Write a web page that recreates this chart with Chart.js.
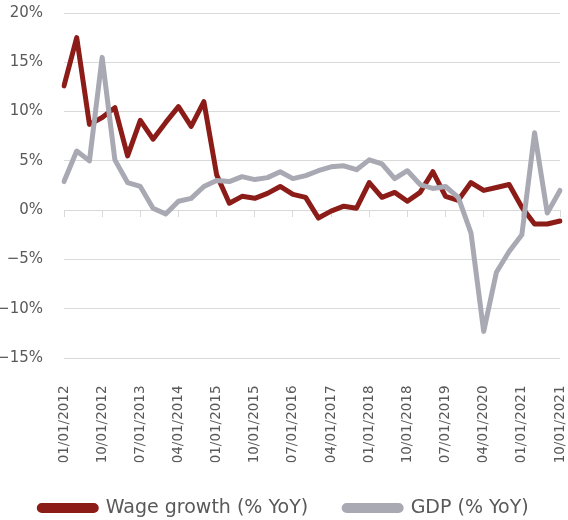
<!DOCTYPE html>
<html>
<head>
<meta charset="utf-8">
<script src="https://cdn.jsdelivr.net/npm/chart.js@4/dist/chart.umd.min.js"></script>
<style>
    body { margin: 0; background: #fff; }
    #wrap { width: 568px; height: 520px; }
</style>
</head>
<body>
<div id="wrap"><canvas id="myChart"></canvas></div>
<script>
const quarters = [];
for (let y = 2012; y <= 2021; y++) {
    ['01', '04', '07', '10'].forEach(m => quarters.push(m + '/01/' + y));
}

const wageGrowth = [12.6, 17.5, 8.7, 9.4, 10.4, 5.5, 9.1, 7.2, 8.9, 10.5,
                    8.5, 11.0, 3.6, 0.7, 1.4, 1.2, 1.7, 2.4, 1.6, 1.3,
                    -0.8, -0.1, 0.4, 0.2, 2.8, 1.3, 1.8, 0.9, 1.8, 3.9,
                    1.4, 1.0, 2.8, 2.0, 2.3, 2.6, 0.3, -1.4, -1.4, -1.1];
const gdp = [2.9, 6.0, 5.0, 15.5, 5.1, 2.8, 2.4, 0.2, -0.4, 0.9,
             1.2, 2.4, 3.0, 2.9, 3.4, 3.1, 3.3, 3.9, 3.2, 3.5,
             4.0, 4.4, 4.5, 4.1, 5.1, 4.7, 3.2, 4.0, 2.6, 2.2,
             2.4, 1.3, -2.3, -12.3, -6.3, -4.2, -2.5, 7.85, -0.3, 2.0];
const seriesNames = ['Wage growth (% YoY)', 'GDP (% YoY)'];
const seriesColors = ['#8B1C18', '#A9A9B4'];

const textColor = '#595959';
const gridColor = '#d9d9d9';
const tickEvery = 3;

const ctx = document.getElementById('myChart').getContext('2d');
const myChart = new Chart(ctx, {
    type: 'line',
    data: {
        labels: quarters,
        datasets: [{
            label: seriesNames[0],
            data: wageGrowth,
            borderColor: seriesColors[0],
            backgroundColor: seriesColors[0],
            borderWidth: 5,
            borderJoinStyle: 'round',
            borderCapStyle: 'round',
            pointRadius: 0,
            tension: 0,
            order: 1
        }, {
            label: seriesNames[1],
            data: gdp,
            borderColor: seriesColors[1],
            backgroundColor: seriesColors[1],
            borderWidth: 5,
            borderJoinStyle: 'round',
            borderCapStyle: 'round',
            pointRadius: 0,
            tension: 0,
            order: 0 // grey drawn on top, like the original
        }]
    },
    options: {
        responsive: true,
        maintainAspectRatio: false,
        animation: false,
        // negative bottom padding lets the legend keep a wide label gap
        layout: { padding: { top: 13, right: 0, bottom: -7.5, left: 0 } },
        plugins: {
            tooltip: { enabled: false },
            legend: {
                position: 'bottom',
                labels: {
                    sort: (a, b) => a.datasetIndex - b.datasetIndex,
                    boxWidth: 57,
                    boxHeight: 5,
                    useBorderRadius: true,
                    borderRadius: 2.5,
                    padding: 36,
                    color: textColor,
                    font: { family: 'DejaVu Sans', size: 19 }
                }
            }
        },
        scales: {
            x: {
                afterFit: scale => {
                    scale.height = 104.5;
                    scale.paddingLeft = 0;
                    scale.paddingRight = 8;
                },
                grid: { display: false },
                border: { display: false },
                ticks: {
                    autoSkip: false,
                    minRotation: 90,
                    maxRotation: 90,
                    padding: 19.5,
                    color: textColor,
                    font: { family: 'DejaVu Sans', size: 13.5 },
                    callback: (val, i) => i % tickEvery === 0 ? quarters[i] : ''
                }
            },
            x2: {
                type: 'category',
                labels: quarters,
                position: { y: 0 },
                grid: {
                    drawOnChartArea: false,
                    drawTicks: true,
                    tickLength: 6,
                    tickWidth: 1,
                    tickColor: c => c.index % tickEvery === 0 ? gridColor : 'rgba(0,0,0,0)'
                },
                border: { display: true, color: gridColor, width: 1 },
                ticks: { display: false, autoSkip: false }
            },
            y: {
                min: -15,
                max: 20,
                afterFit: scale => {
                    scale.width = 64;
                    scale.paddingTop = 0;
                    scale.paddingBottom = 0;
                },
                grid: { color: gridColor, lineWidth: 1, drawTicks: false },
                border: { display: false },
                ticks: {
                    stepSize: 5,
                    padding: 21,
                    color: textColor,
                    font: { family: 'DejaVu Sans', size: 15 },
                    callback: v => (v < 0 ? '\u2212' + Math.abs(v) : v) + '%'
                }
            }
        }
    }
});
</script>
</body>
</html>
